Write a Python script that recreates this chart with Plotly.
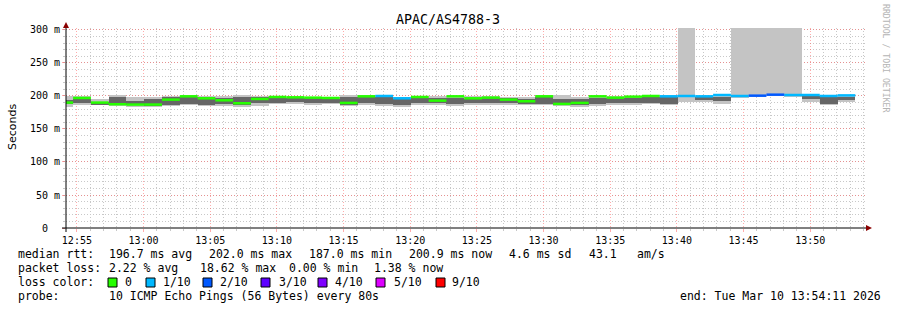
import plotly.graph_objects as go
import pandas as pd

# ---------------- data ----------------
chart_title = "APAC/AS4788-3"
y_title = "Seconds"
step_seconds = 80
first_step_start = "2026-03-10 12:53:23"
range_start = "2026-03-10 12:54:11"
range_end = "2026-03-10 13:54:11"
major_tick0 = "2026-03-10 12:55:00"

median_ms = [190, 197, 190, 187.5, 187, 187, 194.5, 199.5, 196.5, 193.5, 189, 195.5,
             198.5, 198, 197.5, 197, 189.5, 199.5, 200, 196.5, 198.5, 193, 199.5, 196.5,
             197.5, 194.5, 192, 199.5, 188, 189.5, 199.5, 197.5, 199, 200, 199.5, 200,
             199.5, 201.5, 200, 200.5, 202, 201.5, 201.5, 200, 200.9]
loss_pings = [0, 0, 0, 0, 0, 0, 0, 0, 0, 0, 0, 0,
              0, 0, 0, 0, 0, 0, 1, 1, 0, 0, 0, 0,
              0, 0, 0, 0, 0, 0, 0, 0, 0, 0, 1, 1,
              1, 1, 1, 2, 2, 1, 1, 1, 1]
smoke_lo = [184, 186, 186, 185, 184, 184, 185, 186, 185, 185, 184, 185,
            188, 188, 187, 188, 185, 187, 185, 183, 187, 186, 185, 186,
            187, 186, 186, 186, 185, 184, 185, 187, 187, 188, 187, 191,
            191, 188, 197, 198, 200, 198, 191, 187, 191]
smoke_hi = [200, 200, 196, 201, 198, 199, 200, 201, 200, 200, 201, 200,
            200, 199, 199, 199, 201, 201, 201, 198, 200, 200, 200, 200,
            200, 199, 198, 201, 202, 198, 200, 200, 200, 201, 201, 310,
            200, 202, 310, 310, 310, 310, 202, 201, 201]
core_lo = [188, 189, 187, 189, 186, 185, 187, 188, 187, 188, 187, 189,
           190, 191, 189, 190, 187, 190, 188, 186, 190, 189, 188, 189,
           189, 189, 188, 188, 187, 186, 188, 190, 189, 189, 188, 199,
           194, 193, 200, 200, 202, 201, 196, 188, 194]
core_hi = [194, 196, 191, 199, 193, 196, 199, 198, 198, 197, 199, 198,
           197, 197, 197, 196, 198, 198, 198, 195, 197, 197, 197, 196,
           197, 197, 196, 198, 196, 195, 197, 197, 197, 199, 198, 199,
           198, 199, 200, 200, 202, 201, 200, 198, 199]

loss_levels = [0, 1, 2, 3, 4, 5, 9]
loss_labels = ["0", "1/10", "2/10", "3/10", "4/10", "5/10", "9/10"]
loss_colors = ["#26ff00", "#00b8ff", "#0059ff", "#5e00ff", "#7e00ff", "#dd00ff", "#ff0000"]

y_tickvals = [0, 50, 100, 150, 200, 250, 300]
y_ticktext = ["0\u00a0\u00a0", "50 m", "100 m", "150 m", "200 m", "250 m", "300 m"]

stat_rows = [
    ["median rtt:", "196.7 ms avg", "202.0 ms max", "187.0 ms min", "200.9 ms now", "4.6 ms sd", "43.1", "am/s"],
    ["packet loss:", "2.22 % avg", "18.62 % max", "0.00 % min", "1.38 % now"],
]
probe_label = "probe:"
probe_text = "10 ICMP Echo Pings (56 Bytes) every 80s"
end_text = "end: Tue Mar 10 13:54:11 2026"
watermark = "RRDTOOL / TOBI OETIKER"

# ---------------- layout constants (pixels) ----------------
W, H = 897, 310
PL, PR, PT, PB = 66, 866, 28, 228
Y_MAX = 303
MONO = "DejaVu Sans Mono"


def px(x):
    return (x - PL) / (PR - PL)


def py(y):
    return (PB - y) / (PB - PT)


n = len(median_ms)
starts = pd.date_range(first_step_start, periods=n, freq=f"{step_seconds}s")
ends = starts + pd.Timedelta(seconds=step_seconds)
centers = starts + pd.Timedelta(seconds=step_seconds / 2)

fig = go.Figure()

# smoke: outer band
fig.add_trace(go.Bar(
    x=centers, base=smoke_lo, y=[h - l for h, l in zip(smoke_hi, smoke_lo)],
    width=step_seconds * 1000, marker=dict(color="#c4c4c4", line=dict(width=0)),
    showlegend=False, hoverinfo="skip"))
# smoke: dense core
fig.add_trace(go.Bar(
    x=centers, base=core_lo, y=[h - l for h, l in zip(core_hi, core_lo)],
    width=step_seconds * 1000, marker=dict(color="#666666", line=dict(width=0)),
    showlegend=False, hoverinfo="skip"))

# median line, coloured by loss
for lvl, col in zip(loss_levels, loss_colors):
    xs, ys = [], []
    for i in range(n):
        if loss_pings[i] == lvl:
            xs += [starts[i], ends[i], None]
            ys += [median_ms[i], median_ms[i], None]
    if xs:
        fig.add_trace(go.Scatter(x=xs, y=ys, mode="lines",
                                 line=dict(color=col, width=2.5),
                                 showlegend=False, hoverinfo="skip"))

shapes = []
annotations = []

# axis lines and arrows
shapes.append(dict(type="line", xref="paper", yref="paper",
                   x0=px(62), x1=px(868), y0=py(228), y1=py(228),
                   line=dict(color="#000000", width=1), layer="above"))
shapes.append(dict(type="line", xref="paper", yref="paper",
                   x0=px(66), x1=px(66), y0=py(232), y1=py(25),
                   line=dict(color="#000000", width=1), layer="above"))
shapes.append(dict(type="path", xref="paper", yref="paper",
                   xsizemode="pixel", ysizemode="pixel",
                   xanchor=px(866), yanchor=py(228),
                   path="M 0,-3 L 6,0 L 0,3 Z", fillcolor="#8b0000",
                   line=dict(color="#8b0000", width=0), layer="above"))
shapes.append(dict(type="path", xref="paper", yref="paper",
                   xsizemode="pixel", ysizemode="pixel",
                   xanchor=px(66), yanchor=py(28),
                   path="M -3,0 L 3,0 L 0,6 Z", fillcolor="#8b0000",
                   line=dict(color="#8b0000", width=0), layer="above"))

# title
annotations.append(dict(text=chart_title, xref="paper", yref="paper",
                        x=px(448), y=py(19), xanchor="center", yanchor="middle",
                        showarrow=False, font=dict(family=MONO, size=13.3, color="#000")))
# y title
annotations.append(dict(text=y_title, xref="paper", yref="paper",
                        x=px(12), y=py(127), xanchor="center", yanchor="middle",
                        textangle=-90, showarrow=False,
                        font=dict(family="DejaVu Sans", size=11, color="#000")))
# watermark
annotations.append(dict(text=watermark, xref="paper", yref="paper",
                        x=px(886), y=py(59), xanchor="center", yanchor="middle",
                        textangle=90, showarrow=False,
                        font=dict(family=MONO, size=8.2, color="#b4b4b4")))

TXT = dict(family=MONO, size=11.5, color="#000")


def put(text, x, y):
    annotations.append(dict(text=text.replace(" ", "\u00a0"), xref="paper", yref="paper",
                            x=px(x), y=py(y), xanchor="left", yanchor="middle",
                            showarrow=False, font=TXT))


row1_x = [16, 107, 207, 307, 407, 507, 587, 635]
row2_x = [16, 107, 198, 287, 372]
for t, x in zip(stat_rows[0], row1_x):
    put(t, x, 254)
for t, x in zip(stat_rows[1], row2_x):
    put(t, x, 268)

put("loss color:", 16, 282)
sq_x = [108, 146, 203, 261, 318, 376, 436]
lab_x = [123, 161, 218, 277, 333, 392, 450]
for sx, lx, lab, col in zip(sq_x, lab_x, loss_labels, loss_colors):
    shapes.append(dict(type="rect", xref="paper", yref="paper",
                       x0=px(sx), x1=px(sx + 9), y0=py(278), y1=py(287),
                       fillcolor=col, line=dict(color="#000", width=1)))
    put(lab, lx, 282)

put(probe_label, 16, 296)
put(probe_text, 107, 296)
put(end_text, 678, 296)

MAJOR = "rgba(255,90,90,0.5)"
MINOR = "#c8c8c8"
DOTS = "1px,2px"

fig.update_layout(
    width=W, height=H,
    margin=dict(l=PL, r=W - PR, t=PT, b=H - PB, pad=0),
    paper_bgcolor="#ffffff", plot_bgcolor="#ffffff",
    barmode="overlay", bargap=0, showlegend=False,
    shapes=shapes, annotations=annotations,
    xaxis=dict(
        type="date", range=[range_start, range_end],
        tick0=major_tick0, dtick=5 * 60 * 1000, tickformat="%H:%M",
        showgrid=True, gridcolor=MAJOR, griddash=DOTS, gridwidth=1,
        ticks="outside", ticklen=3, tickcolor=MAJOR,
        tickfont=dict(family=MONO, size=10, color="#000"),
        showline=False, zeroline=False, fixedrange=True,
        minor=dict(dtick=60 * 1000, showgrid=True, gridcolor=MINOR, griddash=DOTS,
                   gridwidth=1, ticks="outside", ticklen=2, tickcolor=MINOR),
    ),
    yaxis=dict(
        range=[0, Y_MAX], tickvals=y_tickvals, ticktext=y_ticktext,
        showgrid=True, gridcolor=MAJOR, griddash=DOTS, gridwidth=1,
        ticks="outside", ticklen=3, tickcolor=MAJOR,
        tickfont=dict(family=MONO, size=10, color="#000"),
        showline=False, zeroline=False, fixedrange=True,
        minor=dict(dtick=10, showgrid=True, gridcolor=MINOR, griddash=DOTS,
                   gridwidth=1, ticks="outside", ticklen=2, tickcolor=MINOR),
    ),
)

fig.write_html("out.html", config={"displayModeBar": False})
